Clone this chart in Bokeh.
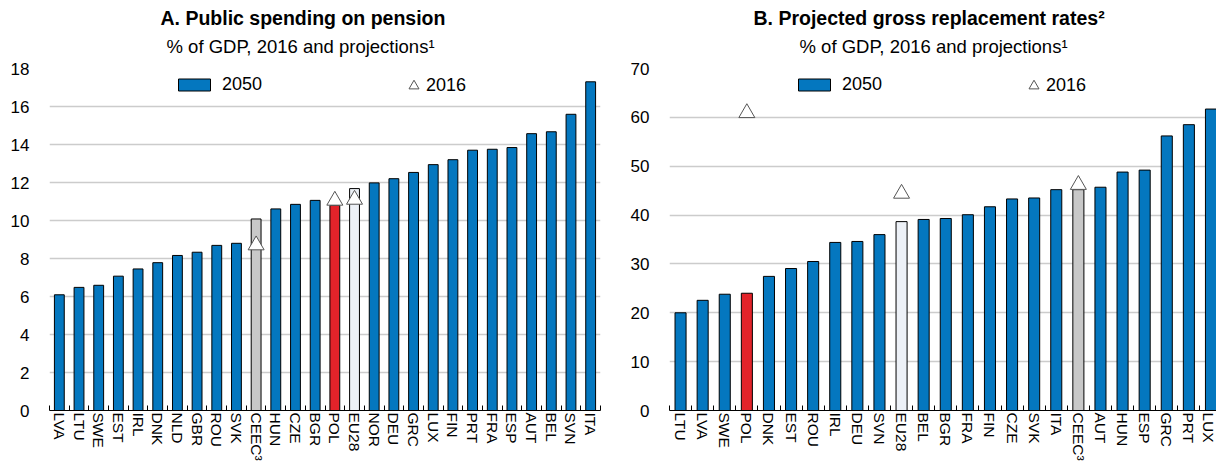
from bokeh.plotting import figure
from bokeh.models import (Range1d, FixedTicker, Legend, LegendItem, Title,
                          ColumnDataSource)
from bokeh.layouts import row
from bokeh.embed import file_html
from bokeh.resources import INLINE

# ---------------- data ----------------
A_COUNTRIES = ["LVA", "LTU", "SWE", "EST", "IRL", "DNK", "NLD", "GBR", "ROU", "SVK",
               "CEEC³", "HUN", "CZE", "BGR", "POL", "EU28", "NOR", "DEU", "GRC", "LUX",
               "FIN", "PRT", "FRA", "ESP", "AUT", "BEL", "SVN", "ITA"]
A_2050 = [6.09, 6.48, 6.59, 7.07, 7.45, 7.78, 8.16, 8.33, 8.69, 8.80,
          10.08, 10.61, 10.85, 11.06, 10.8, 11.68, 11.98, 12.2, 12.53, 12.94,
          13.2, 13.7, 13.75, 13.84, 14.57, 14.67, 15.59, 17.3]
A_2016_COUNTRIES = ["CEEC³", "POL", "EU28"]
A_2016 = [8.7, 11.05, 11.1]
A_YTICKS = [0, 2, 4, 6, 8, 10, 12, 14, 16, 18]

B_COUNTRIES = ["LTU", "LVA", "SWE", "POL", "DNK", "EST", "ROU", "IRL", "DEU", "SVN",
               "EU28", "BEL", "BGR", "FRA", "FIN", "CZE", "SVK", "ITA", "CEEC³", "AUT",
               "HUN", "ESP", "GRC", "PRT", "LUX"]
B_2050 = [20.0, 22.55, 23.8, 24.0, 27.45, 29.06, 30.5, 34.4, 34.6, 36.0,
          38.66, 39.1, 39.3, 40.07, 41.7, 43.3, 43.5, 45.2, 45.2, 45.7,
          48.8, 49.2, 56.2, 58.5, 61.7]
B_2016_COUNTRIES = ["POL", "EU28", "CEEC³"]
B_2016 = [60.9, 44.4, 46.2]
B_YTICKS = [0, 10, 20, 30, 40, 50, 60, 70]

# ---------------- style ----------------
BLUE = "#0477BF"
HIGHLIGHT = {"POL": "#E2232A", "EU28": "#EDF1F7", "CEEC³": "#C8C8C8"}
FONT = "Liberation Sans"
FIG_H = 463
TOP = 68
BOTTOM = 51


def panel(title, subtitle, countries, v2050, c2016, v2016, yticks,
          width, border_left, border_right, x_end, title_off, subtitle_off):
    n = len(countries)
    idx = list(range(n))
    colors = [HIGHLIGHT.get(c, BLUE) for c in countries]
    src = ColumnDataSource(dict(x=idx, top=v2050, color=colors))

    p = figure(width=width, height=FIG_H, title=None,
               x_range=Range1d(-0.5, x_end),
               y_range=Range1d(yticks[0], yticks[-1]),
               output_backend="svg", toolbar_location=None,
               min_border_left=border_left, min_border_right=border_right,
               min_border_top=TOP, min_border_bottom=BOTTOM)
    p.outline_line_color = None
    p.background_fill_color = "white"
    p.border_fill_color = "white"

    # grid
    p.xgrid.grid_line_color = None
    p.ygrid.grid_line_color = "#CCCCCC"
    p.ygrid.grid_line_width = 1.5

    # y axis
    p.yaxis.ticker = FixedTicker(ticks=yticks)
    p.yaxis.axis_line_color = None
    p.yaxis.major_tick_line_color = None
    p.yaxis.minor_tick_line_color = None
    p.yaxis.major_tick_out = 0
    p.yaxis.major_label_standoff = 20
    p.yaxis.major_label_text_font = FONT
    p.yaxis.major_label_text_font_size = "17px"
    p.yaxis.major_label_text_color = "black"

    # x axis: labels at centres, small ticks at boundaries
    p.xaxis.ticker = FixedTicker(ticks=idx, minor_ticks=[i - 0.5 for i in range(n + 1)])
    p.xaxis.major_label_overrides = {i: c for i, c in enumerate(countries)}
    p.xaxis.major_label_orientation = "vertical"
    p.xaxis.major_tick_line_color = None
    p.xaxis.major_tick_out = 0
    p.xaxis.major_tick_in = 0
    p.xaxis.minor_tick_line_color = "black"
    p.xaxis.minor_tick_in = 5
    p.xaxis.minor_tick_out = 0
    p.xaxis.axis_line_color = "black"
    p.xaxis.axis_line_width = 1
    p.xaxis.major_label_standoff = 2
    p.xaxis.major_label_text_font = FONT
    p.xaxis.major_label_text_font_size = "15.5px"
    p.xaxis.major_label_text_color = "black"

    bars = p.vbar(x="x", top="top", bottom=0, width=0.5, source=src,
                  fill_color="color", line_color="black", line_width=1)

    tx = [countries.index(c) for c in c2016]
    tri = p.scatter(x=tx, y=v2016, marker="triangle", size=16,
                    fill_color="white", line_color="#555555", line_width=1)

    frame_h = FIG_H - TOP - BOTTOM
    leg1 = Legend(items=[LegendItem(label="2050", renderers=[bars], index=0)],
                  location=(125, frame_h - 16 - 10 - 3),
                  glyph_width=40, glyph_height=15, label_height=20,
                  label_standoff=8, padding=0, margin=0, spacing=0,
                  border_line_color=None, background_fill_alpha=0,
                  label_text_font=FONT, label_text_font_size="18px",
                  label_text_color="black")
    leg2 = Legend(items=[LegendItem(label="2016", renderers=[tri])],
                  location=(352, frame_h - 16 - 12.5 - 3),
                  glyph_width=25, glyph_height=25, label_height=20,
                  label_standoff=0, padding=0, margin=0, spacing=0,
                  border_line_color=None, background_fill_alpha=0,
                  label_text_font=FONT, label_text_font_size="18px",
                  label_text_color="black")
    p.add_layout(leg1, "center")
    p.add_layout(leg2, "center")

    # subtitle first (closest to the frame), then the bold title above it
    p.add_layout(Title(text=subtitle, align="left", offset=subtitle_off,
                       text_font=FONT, text_font_size="18.5px",
                       text_font_style="normal", text_color="black", standoff=24), "above")
    p.add_layout(Title(text=title, align="left", offset=title_off,
                       text_font=FONT, text_font_size="19.5px",
                       text_font_style="bold", text_color="black", standoff=-14), "above")
    return p


p1 = panel("A. Public spending on pension", "% of GDP, 2016 and projections¹",
           A_COUNTRIES, A_2050, A_2016_COUNTRIES, A_2016, A_YTICKS,
           width=612, border_left=49, border_right=12, x_end=len(A_COUNTRIES) - 0.5,
           title_off=111, subtitle_off=117)
p2 = panel("B. Projected gross replacement rates²", "% of GDP, 2016 and projections¹",
           B_COUNTRIES, B_2050, B_2016_COUNTRIES, B_2016, B_YTICKS,
           width=604, border_left=57, border_right=0, x_end=24.25,
           title_off=84, subtitle_off=130)

layout = row(p1, p2)
open("out.html", "w").write(file_html(layout, INLINE))
